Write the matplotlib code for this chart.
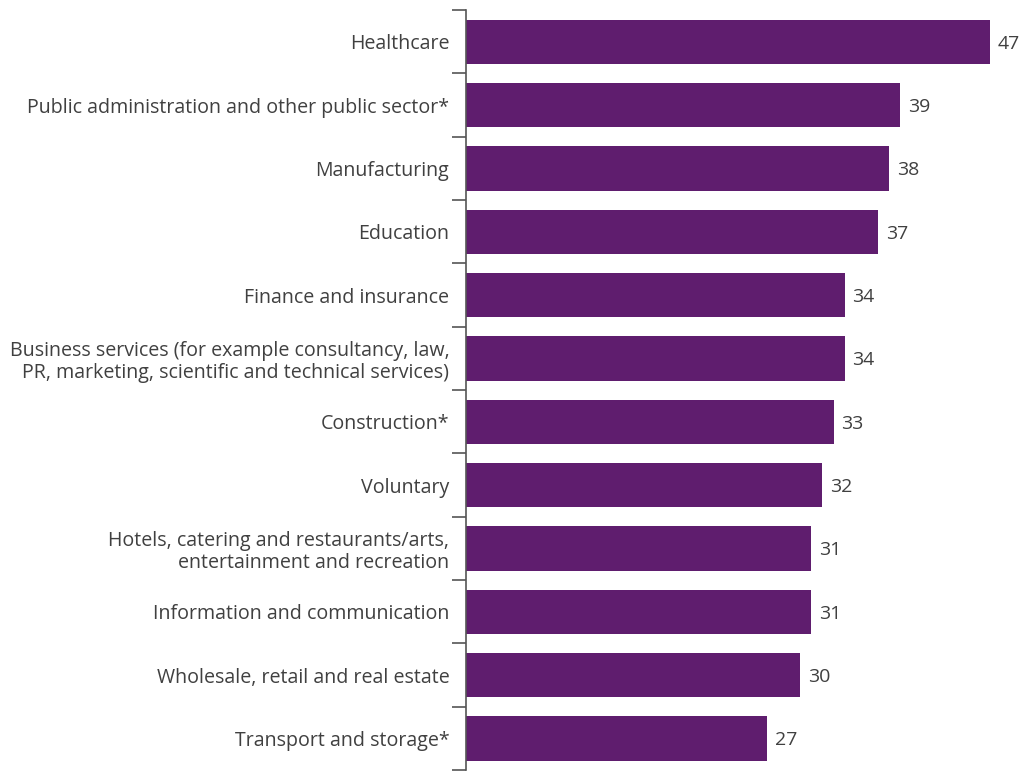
import matplotlib
matplotlib.use("Agg")
import matplotlib.pyplot as plt
import numpy as np

categories = [
    "Healthcare",
    "Public administration and other public sector*",
    "Manufacturing",
    "Education",
    "Finance and insurance",
    "Business services (for example consultancy, law,\nPR, marketing, scientific and technical services)",
    "Construction*",
    "Voluntary",
    "Hotels, catering and restaurants/arts,\nentertainment and recreation",
    "Information and communication",
    "Wholesale, retail and real estate",
    "Transport and storage*",
]
values = [47, 39, 38, 37, 34, 34, 33, 32, 31, 31, 30, 27]

bar_color = "#5f1d6e"
text_color = "#404040"
axis_color = "#555555"

plt.rcParams["font.family"] = ["Open Sans", "DejaVu Sans"]

fig = plt.figure(figsize=(10.24, 7.75), dpi=100)
ax = fig.add_axes([466 / 1024, 5 / 775, (1023 - 466) / 1024, 760 / 775])

y = np.arange(len(categories))
ax.barh(y, values, height=0.7, color=bar_color)

for yi, v in zip(y, values):
    ax.text(v + 0.7, yi, f"{v}", va="center_baseline", ha="left",
            fontsize=14, color=text_color)

ax.set_xlim(0, 50)
ax.set_ylim(len(categories) - 0.5, -0.5)

ax.set_yticks(y)
ax.set_yticklabels(categories, fontsize=14.1, color=text_color,
                   multialignment="right", linespacing=1.15)
ax.tick_params(axis="y", which="major", length=0, pad=12)
ax.set_yticks(np.arange(-0.5, len(categories)), minor=True)
ax.tick_params(axis="y", which="minor", length=10, width=1.2,
               color=axis_color)

ax.set_xticks([])
for side in ("top", "right", "bottom"):
    ax.spines[side].set_visible(False)
ax.spines["left"].set_color(axis_color)
ax.spines["left"].set_linewidth(1.2)

fig.savefig("out.png", dpi=100)
